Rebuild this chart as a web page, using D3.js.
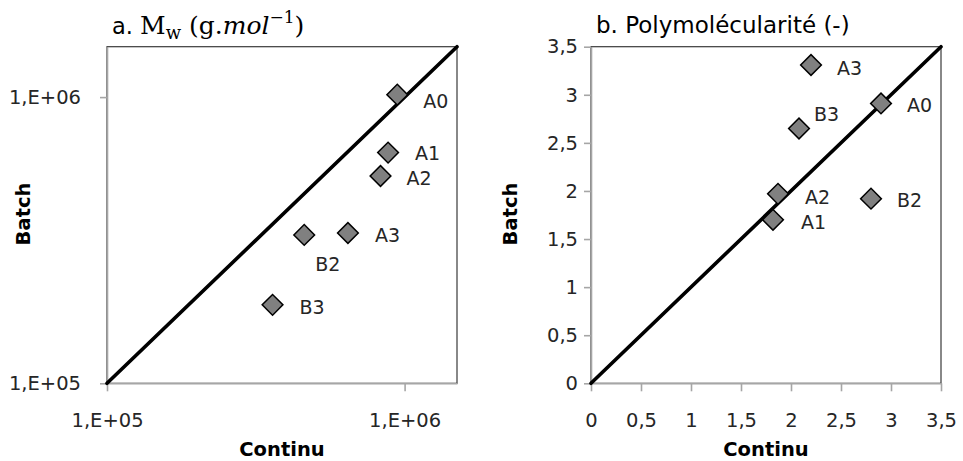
<!DOCTYPE html>
<html><head><meta charset="utf-8">
<script src="https://cdn.jsdelivr.net/npm/d3@7"></script>
<style>body{margin:0;background:#fff} svg{display:block}</style>
</head><body><svg id="c" width="963" height="461"></svg>
<script>
// ---------------- data ----------------
const samples = ["A0", "A1", "A2", "A3", "B2", "B3"];
// panel a: Mw (g/mol), log axes
const mwContinu = [9.45e5, 8.8e5, 8.3e5, 6.45e5, 4.6e5, 3.6e5];
const mwBatch   = [1.02e6, 6.4e5, 5.3e5, 3.35e5, 3.3e5, 1.88e5];
const mwDomain = [1e5, 1.5e6];
const mwTicks = [1e5, 1e6];
const mwTickLabels = ["1,E+05", "1,E+06"];
// panel b: polymolecularity
const ipContinu = [2.90, 1.82, 1.87, 2.20, 2.80, 2.08];
const ipBatch   = [2.91, 1.70, 1.97, 3.31, 1.92, 2.65];
const ipDomain = [0, 3.5];
const ipTicks = [0, 0.5, 1, 1.5, 2, 2.5, 3, 3.5];
const ipTickLabels = ["0", "0,5", "1", "1,5", "2", "2,5", "3", "3,5"];
const xTitle = "Continu";
const yTitle = "Batch";

// ---------------- layout / style ----------------
const svg = d3.select("#c");
const SANS = "'DejaVu Sans', sans-serif";
const SERIF = "'DejaVu Serif', serif";
const TXT = "#262626";

const panels = [
  { left: 107, right: 457, top: 46.7, bottom: 383.3, log: true,
    xs: mwContinu, ys: mwBatch, domain: mwDomain, ticks: mwTicks, tickLabels: mwTickLabels,
    yPad: 19, yTitleX: 23, xTitleX: 282,
    offsets: { A0: [26, 7], A1: [27, 1], A2: [26, 2], A3: [27, 2], B2: [11, 29], B3: [27, 2] } },
  { left: 591, right: 941, top: 46.7, bottom: 383.3, log: false,
    xs: ipContinu, ys: ipBatch, domain: ipDomain, ticks: ipTicks, tickLabels: ipTickLabels,
    yPad: 6, yTitleX: 510, xTitleX: 766,
    offsets: { A0: [26, 2], A1: [28, 2], A2: [27, 3], A3: [26, 3], B2: [26, 2], B3: [15, -14] } }
];

panels.forEach(p => {
  const g = svg.append("g");
  const x = (p.log ? d3.scaleLog() : d3.scaleLinear()).domain(p.domain).range([p.left, p.right]);
  const y = (p.log ? d3.scaleLog() : d3.scaleLinear()).domain(p.domain).range([p.bottom, p.top]);

  // plot area border
  g.append("rect").attr("x", p.left).attr("y", p.top)
    .attr("width", p.right - p.left).attr("height", p.bottom - p.top)
    .attr("fill", "none").attr("stroke", "#3a3a3a").attr("stroke-width", 1.2);

  const fmt = d => p.tickLabels[p.ticks.indexOf(d)];
  const xa = g.append("g").attr("transform", `translate(0,${p.bottom})`)
    .call(d3.axisBottom(x).tickValues(p.ticks).tickFormat(fmt).tickSize(8).tickPadding(22).tickSizeOuter(0));
  const ya = g.append("g").attr("transform", `translate(${p.left},0)`)
    .call(d3.axisLeft(y).tickValues(p.ticks).tickFormat(fmt).tickSize(7).tickPadding(p.yPad).tickSizeOuter(0));
  [xa, ya].forEach(a => {
    a.select(".domain").attr("stroke", "#a6a6a6").attr("stroke-width", 1.6);
    a.selectAll(".tick line").attr("stroke", "#a6a6a6").attr("stroke-width", 1.6);
    a.selectAll(".tick text").attr("font-family", SANS).attr("font-size", 19.5).attr("fill", TXT);
  });

  // identity line
  g.append("line")
    .attr("x1", x(p.domain[0])).attr("y1", y(p.domain[0]))
    .attr("x2", x(p.domain[1])).attr("y2", y(p.domain[1]))
    .attr("stroke", "#000").attr("stroke-width", 3.6).attr("stroke-linecap", "round");

  // markers
  const sym = d3.symbol().type(d3.symbolSquare).size(215);
  samples.forEach((s, i) => {
    const cx = x(p.xs[i]), cy = y(p.ys[i]);
    g.append("path").attr("d", sym())
      .attr("transform", `translate(${cx},${cy}) rotate(45)`)
      .attr("fill", "#808080").attr("stroke", "#000").attr("stroke-width", 1.5);
    const o = p.offsets[s];
    g.append("text").attr("x", cx + o[0]).attr("y", cy + o[1]).attr("dy", "0.36em")
      .attr("font-family", SANS).attr("font-size", 19).attr("fill", TXT).text(s);
  });

  // axis titles
  g.append("text").attr("x", p.xTitleX).attr("y", 449).attr("dy", "0.36em")
    .attr("text-anchor", "middle").attr("font-family", SANS).attr("font-weight", "bold")
    .attr("font-size", 19.5).attr("fill", "#000").text(xTitle);
  g.append("text").attr("transform", `translate(${p.yTitleX},214) rotate(-90)`).attr("dy", "0.36em")
    .attr("text-anchor", "middle").attr("font-family", SANS).attr("font-weight", "bold")
    .attr("font-size", 19.5).attr("fill", "#000").text(yTitle);
});

// panel titles
const t1 = svg.append("text").attr("x", 112).attr("y", 34).attr("fill", "#000");
t1.append("tspan").attr("font-family", SANS).attr("font-size", 22.5).text("a. ");
t1.append("tspan").attr("font-family", SERIF).attr("font-size", 25).text("M");
t1.append("tspan").attr("font-family", SERIF).attr("font-size", 18).attr("dy", 5).text("w");
t1.append("tspan").attr("font-family", SERIF).attr("font-size", 25).attr("dy", -5).text(" (g.");
t1.append("tspan").attr("font-family", SERIF).attr("font-size", 25).attr("font-style", "italic").text("mol");
t1.append("tspan").attr("font-family", SERIF).attr("font-size", 17).attr("dy", -11).text("−1");
t1.append("tspan").attr("font-family", SERIF).attr("font-size", 25).attr("dy", 11).text(")");

svg.append("text").attr("x", 596).attr("y", 33).attr("fill", "#000")
  .attr("font-family", SANS).attr("font-size", 23).text("b. Polymolécularité (-)");
</script></body></html>
